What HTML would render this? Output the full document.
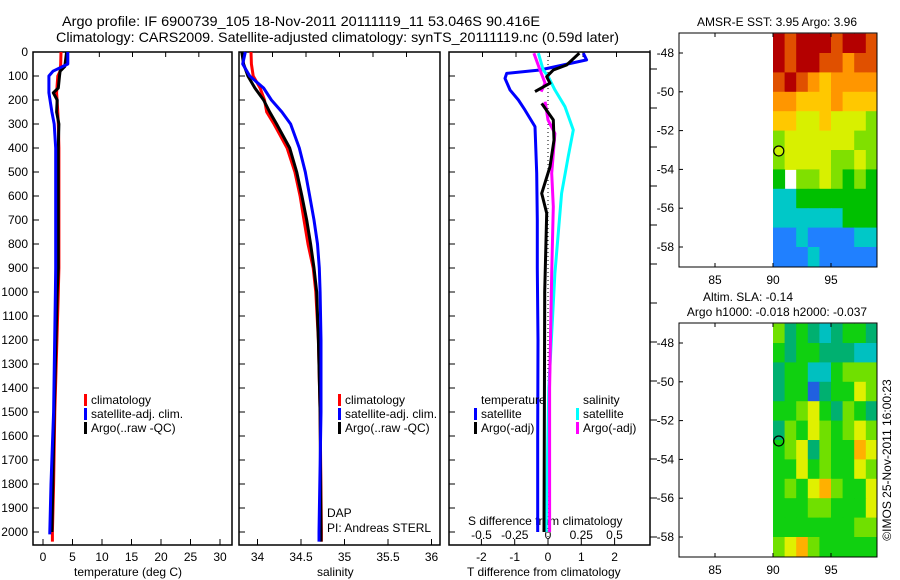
<!DOCTYPE html>
<html><head><meta charset="utf-8"><style>
body{margin:0;background:#fff}
svg{display:block;font-family:"Liberation Sans",sans-serif}
</style></head><body>
<svg id="c" width="900" height="580" xmlns="http://www.w3.org/2000/svg"></svg>
<script>
// ---------- data ----------
const depthLabels=[0,100,200,300,400,500,600,700,800,900,1000,1100,1200,1300,1400,1500,1600,1700,1800,1900,2000];
const tempTicks=[0,5,10,15,20,25,30];
const salTicks=[34,34.5,35,35.5,36];
const tdTicks=[-2,-1,0,1,2];
const sdTicks=[-0.5,-0.25,0,0.25,0.5];

const tClimDepth=[0,50,80,100,170,250,300,400,900,1000,1500,1800,2000,2040];
const tClimVal=[3.05,3.0,2.9,2.5,2.3,2.5,2.6,2.7,2.7,2.6,2.0,1.8,1.6,1.6];
const tSatDepth=[0,50,80,100,170,250,300,400,900,1000,1500,1800,2000,2010];
const tSatVal=[4.2,4.2,1.7,1.0,1.0,1.5,1.9,2.15,2.15,2.1,1.8,1.35,1.15,1.15];
const tArgoDepth=[0,60,80,100,150,170,200,250,300,400,900,1000,1500,2000];
const tArgoVal=[4.0,3.7,2.9,2.8,2.6,1.75,2.4,2.3,2.7,2.6,2.6,2.4,1.9,1.5];

const sDepth=[0,50,100,150,200,250,300,400,500,600,700,800,900,1000,1200,1500,2000,2040];
const sClimVal=[33.925,33.93,33.95,34.03,34.08,34.106,34.19,34.34,34.43,34.49,34.535,34.58,34.64,34.67,34.70,34.72,34.735,34.735];
const sSatVal=[33.86,33.83,33.91,34.07,34.16,34.28,34.38,34.48,34.55,34.60,34.65,34.69,34.71,34.72,34.73,34.73,34.707,34.707];
const sArgoVal=[33.82,33.84,33.89,33.97,34.07,34.14,34.22,34.37,34.45,34.51,34.565,34.61,34.65,34.68,34.70,34.72,34.73,34.73];

const tdSatDepth=[5,33,75,89,110,158,200,242,311,505,700,900,1200,1600,2000];
const tdSatVal=[1.06,1.16,-0.24,-1.24,-1.29,-1.14,-0.89,-0.69,-0.39,-0.34,-0.32,-0.32,-0.3,-0.31,-0.31];
const tdArgoDepth=[5,54,75,103,130,165,190,214,283,367,478,589,672,1000,1600,2000];
const tdArgoVal=[0.94,0.56,0.16,-0.04,0.06,-0.39,null,-0.19,0.16,0.18,0.06,-0.19,-0.04,-0.1,-0.11,-0.12];
const sdSatDepth=[5,75,103,158,228,325,436,589,922,1400,2000];
const sdSatVal=[-0.072,-0.036,0.002,0.052,0.128,0.19,0.152,0.102,0.052,0.006,-0.014];
const sdArgoDepth=[5,75,130,165,190,207,283,339,505,644,922,1400,2000];
const sdArgoVal=[-0.106,-0.06,-0.022,-0.052,null,-0.022,0.0,0.052,0.028,0.04,0.028,0.012,0.012];

const mapLonTicks=[85,90,95];
const mapLatTicks=[-48,-50,-52,-54,-56,-58];
const gridLons=[90,91,92,93,94,95,96,97,98];
const gridLats=[-47,-48,-49,-50,-51,-52,-53,-54,-55,-56,-57,-58];
const sstGrid=[
[9,8,9,9,9,8,9,9,8],[9,8,9,9,8,8,7,8,8],[8,9,8,7,6,7,7,7,7],[7,7,6,6,6,7,6,6,6],
[6,6,5,5,6,5,5,5,4],[4,5,5,5,5,5,5,4,4],[4,5,5,5,5,4,4,5,4],[3,null,4,4,5,4,3,4,3],
[2,2,3,3,3,3,3,3,3],[2,2,2,2,2,2,3,3,3],[1,1,2,1,1,1,1,2,2],[1,1,1,2,1,1,1,1,1]];
const slaGrid=[
[4,2,3,2,1,2,3,3,2],[3,2,3,3,2,2,2,1,1],[2,3,3,1,1,3,4,4,4],[2,3,3,0,2,3,3,5,4],
[3,3,4,5,3,2,4,3,2],[2,4,3,5,4,3,4,5,4],[3,4,5,2,4,3,3,6,5],[3,3,5,3,4,3,3,5,4],
[3,4,3,5,6,4,3,3,5],[3,3,3,4,4,3,3,3,5],[3,3,3,3,3,3,3,4,4],[4,5,6,4,3,3,3,3,3]];
const floatLon=90.5, floatLat=-53.05;

// ---------- helpers ----------
const svg=document.getElementById('c');
const NS='http://www.w3.org/2000/svg';
function mk(tag,attrs,parent){const e=document.createElementNS(NS,tag);for(const k in attrs)e.setAttribute(k,attrs[k]);(parent||svg).appendChild(e);return e;}
function txt(s,x,y,o){o=o||{};const e=mk('text',{x:x,y:y,'font-size':o.fs||12,'text-anchor':o.a||'start',fill:'#000'});if(o.tl){e.setAttribute('textLength',o.tl);e.setAttribute('lengthAdjust','spacingAndGlyphs');}if(o.tr)e.setAttribute('transform',o.tr);e.textContent=s;return e;}
const Y=d=>52+d*0.24;
const xT=v=>43+v*5.9;
const xS=v=>257.5+(v-34)*87;
const xTD=v=>548+v*33.3;
const xSD=v=>548+v*133;

function line(depths,vals,xf,color,name){
  let d='',pen=false;
  for(let i=0;i<depths.length;i++){
    if(vals[i]===null){pen=false;continue;}
    d+=(pen?'L':'M')+xf(vals[i]).toFixed(1)+' '+Y(depths[i]).toFixed(1)+' ';pen=true;
  }
  const p=mk('path',{d:d,fill:'none',stroke:color,'stroke-width':3,'stroke-linejoin':'round'});
  
  
}

// ---------- titles ----------
let t=txt('Argo profile: IF 6900739_105 18-Nov-2011 20111119_11 53.046S 90.416E',62,26,{fs:14,tl:478});

t=txt('Climatology: CARS2009. Satellite-adjusted climatology: synTS_20111119.nc (0.59d later)',56,42,{fs:14,tl:563});


// ---------- panels ----------
const panels=[{x0:33,x1:232,name:'temperature-panel'},{x0:239,x1:440,name:'salinity-panel'},{x0:449,x1:650,name:'difference-panel'}];
panels.forEach(p=>{
  const r=mk('rect',{x:p.x0,y:52,width:p.x1-p.x0,height:493,fill:'none',stroke:'#000','stroke-width':1.5});
  
  depthLabels.forEach(d=>mk('line',{x1:p.x0,x2:p.x0+6,y1:Y(d),y2:Y(d),stroke:'#000'}));
  for(let k=1;k<6;k++){const x=p.x0+k*(p.x1-p.x0)/6;mk('line',{x1:x,x2:x,y1:52,y2:57,stroke:'#000'});}
});
depthLabels.forEach(d=>{const e=txt(String(d),28,Y(d)+4,{a:'end'});});
tempTicks.forEach(v=>{mk('line',{x1:xT(v),x2:xT(v),y1:545,y2:539,stroke:'#000'});const e=txt(String(v),xT(v),561,{a:'middle'});});
salTicks.forEach(v=>{mk('line',{x1:xS(v),x2:xS(v),y1:545,y2:539,stroke:'#000'});const e=txt(String(v),xS(v),561,{a:'middle'});});
tdTicks.forEach(v=>{mk('line',{x1:xTD(v),x2:xTD(v),y1:545,y2:539,stroke:'#000'});const e=txt(String(v),xTD(v),561,{a:'middle'});});
sdTicks.forEach(v=>{const e=txt(String(v),xSD(v),539,{a:'middle'});});
for(let k=0;k<13;k++){mk('line',{x1:650,x2:657,y1:537-39*k,y2:537-39*k,stroke:'#000'});}
mk('line',{x1:650,x2:650,y1:50,y2:545,stroke:'#000'});
t=txt('temperature (deg C)',74,576,{fs:12});
t=txt('salinity',317,576,{fs:12});
t=txt('T difference from climatology',467,576,{fs:12});
t=txt('S difference from climatology',468,525,{fs:12});
mk('line',{x1:xTD(0),x2:xTD(0),y1:52,y2:545,stroke:'#000','stroke-dasharray':'1 3'});

// ---------- series ----------
line(tClimDepth,tClimVal,xT,'#ff0000','temp-climatology-line');
line(tArgoDepth,tArgoVal,xT,'#000000','temp-argo-line');
line(tSatDepth,tSatVal,xT,'#0000ff','temp-satellite-line');
line(sDepth,sClimVal,xS,'#ff0000','sal-climatology-line');
line(sDepth,sArgoVal,xS,'#000000','sal-argo-line');
line(sDepth,sSatVal,xS,'#0000ff','sal-satellite-line');
line(tdSatDepth,tdSatVal,xTD,'#0000ff','tdiff-satellite-line');
line(sdSatDepth,sdSatVal,xSD,'#00ffff','sdiff-satellite-line');
line(sdArgoDepth,sdArgoVal,xSD,'#ff00ff','sdiff-argo-line');
line(tdArgoDepth,tdArgoVal,xTD,'#000000','tdiff-argo-line');

// ---------- legends ----------
function leg(x,y,color,label,name){
  const b=mk('rect',{x:x,y:y-10,width:3,height:12,fill:color});
  
  const e=txt(label,x+7,y,{fs:12});
}
[[84,'#ff0000','climatology'],[84,'#0000ff','satellite-adj. clim.'],[84,'#000000','Argo(..raw -QC)']].forEach((l,i)=>leg(l[0],404+i*14,l[1],l[2],'temp-legend-entry'));
[[338,'#ff0000','climatology'],[338,'#0000ff','satellite-adj. clim.'],[338,'#000000','Argo(..raw -QC)']].forEach((l,i)=>leg(l[0],404+i*14,l[1],l[2],'sal-legend-entry'));
t=txt('temperature',481,404,{fs:12});
t=txt('salinity',583,404,{fs:12});
leg(474,418,'#0000ff','satellite','diff-legend-entry');
leg(474,432,'#000000','Argo(-adj)','diff-legend-entry');
leg(576,418,'#00ffff','satellite','diff-legend-entry');
leg(576,432,'#ff00ff','Argo(-adj)','diff-legend-entry');
t=txt('DAP',327,517,{fs:12});
t=txt('PI: Andreas STERL',327,532,{fs:12});

// ---------- maps ----------
const sstColors=['#0020a0','#2080ff','#00c8c8','#00c000','#80e000','#d8f000','#ffc800','#ff9600','#e05000','#b40000'];
const slaColors=['#2060e0','#00c0c0','#00b070','#10d010','#70e000','#e0f000','#ffb000'];
function drawMap(top,grid,colors,name,fillCircle){
  const L=679,R=877,B=top+234;
  const mx=lon=>773+(lon-90)*11.6;
  const my=lat=>top+20+(-48-lat)*19.4;
  const g=mk('g',{});
  
  
  for(let r=0;r<gridLats.length;r++)for(let c=0;c<gridLons.length;c++){
    const v=grid[r][c];if(v===null)continue;
    const x0=mx(gridLons[c]),x1=Math.min(R,mx(gridLons[c]+1)),y0=Math.max(top,my(gridLats[r])),y1=Math.min(B,my(gridLats[r]-1));
    const cell=mk('rect',{x:x0,y:y0,width:x1-x0+0.5,height:y1-y0+0.5,fill:colors[v]},g);
    
    
  }
  const f=mk('rect',{x:L,y:top,width:R-L,height:B-top,fill:'none',stroke:'#000'});
  
  mapLonTicks.forEach(v=>{mk('line',{x1:mx(v),x2:mx(v),y1:B,y2:B-4,stroke:'#000'});mk('line',{x1:mx(v),x2:mx(v),y1:top,y2:top+4,stroke:'#000'});const e=txt(String(v),mx(v),B+17,{a:'middle'});});
  mapLatTicks.forEach(v=>{mk('line',{x1:L,x2:L+4,y1:my(v),y2:my(v),stroke:'#000'});const e=txt(String(v),674,my(v)+4,{a:'end'});});
  const cir=mk('circle',{cx:mx(floatLon),cy:my(floatLat),r:5,fill:fillCircle,stroke:'#000','stroke-width':1.2});
  
}
drawMap(33,sstGrid,sstColors,'sst-map','#c8f000');
drawMap(323,slaGrid,slaColors,'sla-map','none');
t=txt('AMSR-E SST: 3.95 Argo: 3.96',777,26,{a:'middle',fs:12});
t=txt('Altim. SLA: -0.14',748,301,{a:'middle',fs:12});
t=txt('Argo h1000: -0.018 h2000: -0.037',777,316,{a:'middle',fs:12});
t=txt('©IMOS 25-Nov-2011 16:00:23',0,0,{a:'middle',fs:12,tr:'translate(891,460) rotate(-90)'});
</script>
</body></html>
